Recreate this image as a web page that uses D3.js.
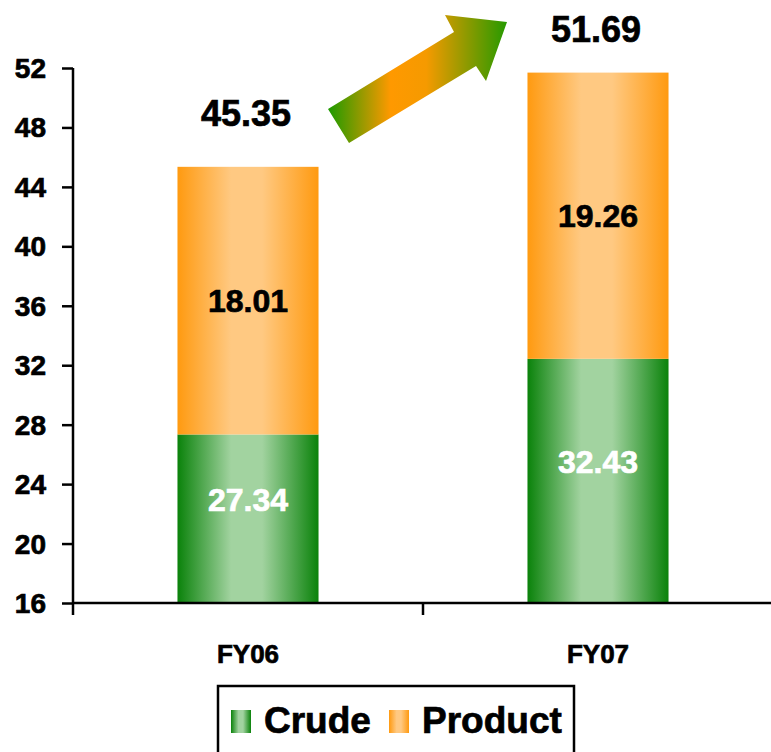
<html>
  <head>
    <meta charset="utf-8">
    <script src="https://d3js.org/d3.v7.min.js"></script>
    <style>
      body {
        margin: 0;
        font-family: "Liberation Sans", Arial, "DejaVu Sans", sans-serif;
        font-weight: bold;
        background: white;
      }
      svg { display: block; }
      text.heavy { stroke-width: 0.7px; paint-order: stroke; }
    </style>
  </head>
  <body>
    <div id="my_dataviz"></div>
  </body>

  <script>
    // data
    const categories = ["FY06", "FY07"]
    const crude = [27.34, 32.43]
    const product = [18.01, 19.26]
    const totals = [45.35, 51.69]
    const yTicks = [16, 20, 24, 28, 32, 36, 40, 44, 48, 52]
    const seriesNames = ["Crude", "Product"]

    const W = 771, H = 752
    const margin = {top: 68, left: 73, bottom: 149}
    const plotRight = 773

    const svg = d3.select("#my_dataviz")
      .append("svg")
        .attr("width", W)
        .attr("height", H)

    const defs = svg.append("defs")

    // horizontal gradients for the bars
    function barGradient(id, edge, light) {
      const g = defs.append("linearGradient")
        .attr("id", id)
        .attr("x1", 0).attr("x2", 1).attr("y1", 0).attr("y2", 0)
      g.append("stop").attr("offset", 0).attr("stop-color", edge)
      g.append("stop").attr("offset", 0.38).attr("stop-color", light)
      g.append("stop").attr("offset", 0.6).attr("stop-color", light)
      g.append("stop").attr("offset", 1).attr("stop-color", edge)
    }
    barGradient("gCrude", "#0a820a", "#a2d3a0")
    barGradient("gProduct", "#ff9a10", "#ffc982")

    const arrowGrad = defs.append("linearGradient")
      .attr("id", "gArrow")
      .attr("x1", 0).attr("x2", 1).attr("y1", 0).attr("y2", 0)
    arrowGrad.append("stop").attr("offset", 0).attr("stop-color", "#1c9a00")
    arrowGrad.append("stop").attr("offset", 0.35).attr("stop-color", "#ff9900")
    arrowGrad.append("stop").attr("offset", 0.55).attr("stop-color", "#f59a00")
    arrowGrad.append("stop").attr("offset", 1).attr("stop-color", "#269a00")

    // scales
    const x = d3.scaleBand()
      .domain(categories)
      .range([margin.left, plotRight])
      .padding(0)
    const barW = x.bandwidth() * 0.403

    const y = d3.scaleLinear()
      .domain([16, 52])
      .range([H - margin.bottom, margin.top])

    const rows = categories.map((c, i) => ({
      cat: c, crude: crude[i], product: product[i], total: totals[i]
    }))

    // bars
    const bars = svg.append("g")
    bars.selectAll("rect.crude")
      .data(rows)
      .join("rect")
        .attr("class", "crude")
        .attr("x", d => x(d.cat) + (x.bandwidth() - barW) / 2)
        .attr("width", barW)
        .attr("y", d => y(d.crude))
        .attr("height", d => y(16) - y(d.crude))
        .attr("fill", "url(#gCrude)")
    bars.selectAll("rect.product")
      .data(rows)
      .join("rect")
        .attr("class", "product")
        .attr("x", d => x(d.cat) + (x.bandwidth() - barW) / 2)
        .attr("width", barW)
        .attr("y", d => y(d.crude + d.product))
        .attr("height", d => y(d.crude) - y(d.crude + d.product))
        .attr("fill", "url(#gProduct)")

    // y axis
    const yAxis = svg.append("g")
      .attr("transform", `translate(${margin.left},0)`)
      .call(d3.axisLeft(y).tickValues(yTicks).tickSize(11).tickPadding(16).tickFormat(d3.format("d")))
    yAxis.select(".domain").attr("stroke-width", 2.5).attr("d", `M0,${y(52)}V${y(16)}`)
    yAxis.selectAll(".tick line").attr("stroke-width", 2.5)
    yAxis.selectAll(".tick text")
      .attr("class", "heavy")
      .attr("font-size", 28)
      .attr("font-weight", "bold")
      .attr("font-family", "'Liberation Sans', Arial, sans-serif")
      .attr("fill", "#000")
      .attr("stroke", "#000")
      .attr("dy", "0.34em")

    // x axis with ticks between categories
    const xAxis = svg.append("g")
      .attr("transform", `translate(0,${y(16)})`)
    xAxis.append("line")
      .attr("x1", margin.left).attr("x2", W)
      .attr("stroke", "#000").attr("stroke-width", 2.5)
    const bounds = categories.map(c => x(c)).concat([x.range()[1]])
    xAxis.selectAll("line.tk")
      .data(bounds)
      .join("line")
        .attr("class", "tk")
        .attr("x1", d => d).attr("x2", d => d)
        .attr("y1", 0).attr("y2", 12)
        .attr("stroke", "#000").attr("stroke-width", 2.5)
    xAxis.selectAll("text")
      .data(categories)
      .join("text")
        .attr("class", "heavy")
        .attr("x", d => x(d) + x.bandwidth() / 2)
        .attr("y", 60)
        .attr("text-anchor", "middle")
        .attr("font-size", 26)
        .attr("stroke", "#000")
        .text(d => d)

    // segment labels
    svg.append("g").selectAll("text")
      .data(rows)
      .join("text")
        .attr("class", "heavy")
        .attr("x", d => x(d.cat) + x.bandwidth() / 2)
        .attr("y", d => (y(d.crude) + y(d.crude + d.product)) / 2)
        .attr("dy", "0.36em")
        .attr("text-anchor", "middle")
        .attr("font-size", 32)
        .attr("fill", "#000")
        .attr("stroke", "#000")
        .text(d => d.product.toFixed(2))
    svg.append("g").selectAll("text")
      .data(rows)
      .join("text")
        .attr("class", "heavy")
        .attr("x", d => x(d.cat) + x.bandwidth() / 2)
        .attr("y", d => (y(16) + y(d.crude)) / 2 - 19)
        .attr("dy", "0.36em")
        .attr("text-anchor", "middle")
        .attr("font-size", 32)
        .attr("fill", "#fff")
        .attr("stroke", "#fff")
        .text(d => d.crude.toFixed(2))

    // totals above bars
    const totalLift = [41, 31]
    svg.append("g").selectAll("text")
      .data(rows)
      .join("text")
        .attr("class", "heavy")
        .attr("x", d => x(d.cat) + x.bandwidth() / 2 - 2)
        .attr("y", (d, i) => y(d.total) - totalLift[i])
        .attr("text-anchor", "middle")
        .attr("font-size", 36)
        .attr("fill", "#000")
        .attr("stroke", "#000")
        .text(d => d.total.toFixed(2))

    // growth arrow
    svg.append("polygon")
      .attr("points", [[349, 143], [328, 109], [454, 32], [445, 15], [507, 22], [486, 81], [476, 66]].map(p => p.join(",")).join(" "))
      .attr("fill", "url(#gArrow)")

    // legend
    const legend = svg.append("g")
    legend.append("rect")
      .attr("x", 218).attr("y", 686)
      .attr("width", 356).attr("height", 80)
      .attr("fill", "white").attr("stroke", "#000").attr("stroke-width", 2.5)
    const legX = [231, 389]
    const legFill = ["url(#gCrude)", "url(#gProduct)"]
    seriesNames.forEach((s, i) => {
      legend.append("rect")
        .attr("x", legX[i]).attr("y", 710)
        .attr("width", 20).attr("height", 23)
        .attr("fill", legFill[i])
      legend.append("text")
        .attr("class", "heavy")
        .attr("x", legX[i] + 33).attr("y", 733)
        .attr("font-size", 37)
        .attr("stroke", "#000")
        .text(s)
    })
  </script>
</html>
